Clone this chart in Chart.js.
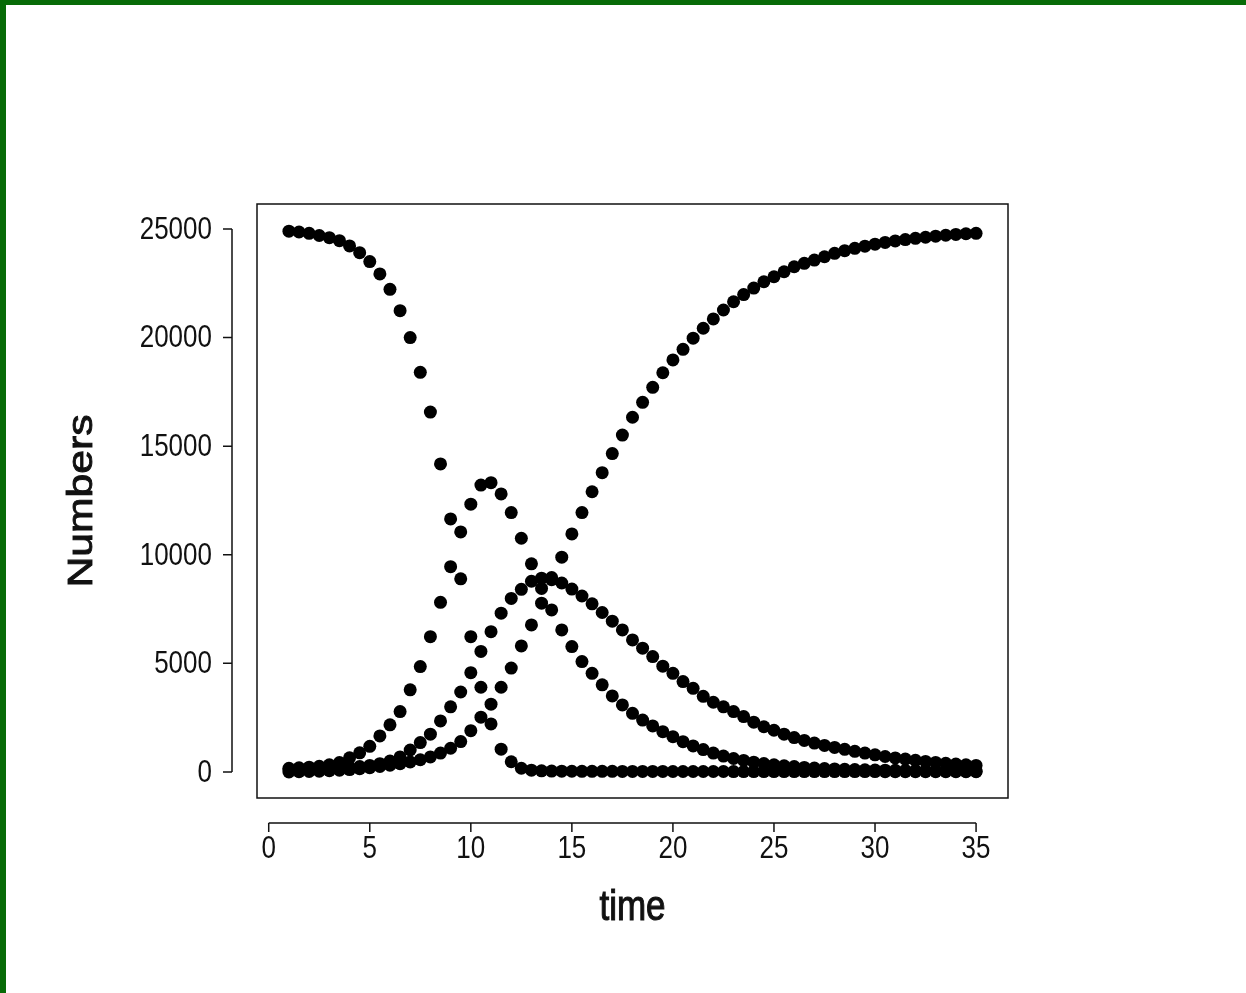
<!DOCTYPE html>
<html>
<head>
<meta charset="utf-8">
<script src="https://cdn.jsdelivr.net/npm/chart.js@4/dist/chart.umd.min.js"></script>
<style>
  html, body { margin: 0; padding: 0; background: #fff; }
  #wrap { position: relative; width: 1246px; height: 993px; overflow: hidden; }
  #frame { position: absolute; left: 0; top: 0; right: 0; bottom: 0;
           border-top: 5px solid #076b07; border-left: 6px solid #076b07; pointer-events: none; }
</style>
</head>
<body>
<div id="wrap">
  <canvas id="chart_seir" width="1246" height="993"></canvas>
  <div id="frame"></div>
</div>
<script>
// time steps (days)
const timeSteps = [1, 1.5, 2, 2.5, 3, 3.5, 4, 4.5, 5, 5.5, 6, 6.5, 7, 7.5, 8, 8.5, 9, 9.5, 10, 10.5,
  11, 11.5, 12, 12.5, 13, 13.5, 14, 14.5, 15, 15.5, 16, 16.5, 17, 17.5, 18, 18.5, 19, 19.5, 20, 20.5,
  21, 21.5, 22, 22.5, 23, 23.5, 24, 24.5, 25, 25.5, 26, 26.5, 27, 27.5, 28, 28.5, 29, 29.5, 30, 30.5,
  31, 31.5, 32, 32.5, 33, 33.5, 34, 34.5, 35];

const susceptible = [24900, 24860, 24800, 24700, 24600, 24460, 24220, 23910, 23500, 22930,
  22220, 21240, 20000, 18400, 16570, 14180, 11650, 8890, 6230, 3900,
  2210, 1050, 470, 170, 80, 50, 40, 35, 32, 30,
  28, 27, 26, 25, 24, 23, 22, 22, 21, 21,
  20, 20, 19, 19, 18, 18, 18, 17, 17, 17,
  16, 16, 16, 16, 15, 15, 15, 15, 15, 14,
  14, 14, 14, 14, 14, 13, 13, 13, 13];

const exposed = [170, 190, 220, 260, 330, 430, 650, 880, 1180, 1660,
  2170, 2780, 3780, 4850, 6230, 7810, 9450, 11050, 12330, 13210,
  13320, 12800, 11940, 10760, 9580, 8450, 7460, 6540, 5770, 5080,
  4540, 4010, 3500, 3085, 2700, 2390, 2120, 1855, 1625, 1395,
  1200, 1030, 870, 730, 620, 530, 450, 385, 330, 285,
  245, 210, 180, 158, 140, 125, 112, 100, 90, 82,
  75, 68, 62, 57, 52, 48, 44, 40, 37];

const infectious = [100, 105, 115, 130, 150, 175, 205, 245, 300, 380,
  500, 690, 1010, 1350, 1740, 2350, 3000, 3680, 4570, 5550,
  6460, 7310, 7990, 8410, 8780, 8920, 8950, 8700, 8420, 8100,
  7740, 7340, 6940, 6540, 6080, 5700, 5310, 4870, 4540, 4160,
  3850, 3480, 3210, 3000, 2780, 2550, 2290, 2080, 1920, 1740,
  1580, 1450, 1330, 1220, 1130, 1040, 950, 870, 790, 710,
  645, 590, 535, 485, 440, 400, 365, 330, 300];

const recovered = [0, 10, 20, 35, 55, 80, 110, 150, 195, 250,
  310, 380, 460, 560, 690, 870, 1090, 1400, 1900, 2520,
  3120, 3900, 4780, 5800, 6770, 7770, 8850, 9890, 10960, 11940,
  12900, 13780, 14660, 15510, 16330, 17020, 17710, 18380, 18970, 19460,
  19970, 20430, 20860, 21270, 21650, 21980, 22280, 22570, 22800, 23030,
  23260, 23420, 23570, 23720, 23880, 24000, 24110, 24210, 24300, 24380,
  24450, 24510, 24570, 24620, 24670, 24710, 24750, 24780, 24800];

const xTicks = [0, 5, 10, 15, 20, 25, 30, 35];
const yTicks = [0, 5000, 10000, 15000, 20000, 25000];

const xTitle = 'time';
const yTitle = 'Numbers';

// the original picture is stretched vertically, so text is drawn taller than wide
const tickFont = '26px "Liberation Sans", Arial, sans-serif';
const titleFont = '35px "Liberation Sans", Arial, sans-serif';
const stretch = 1.22;

const toPoints = (ys) => timeSteps.map((t, i) => ({ x: t, y: ys[i] }));

const dot = {
    pointRadius: 6.5,
    pointHoverRadius: 6.5,
    pointBackgroundColor: '#000',
    pointBorderColor: '#000',
    pointBorderWidth: 0,
    showLine: false,
};

const tallText = (ctx, text, x, y, bold) => {
    ctx.save();
    ctx.translate(x, y);
    ctx.scale(1, stretch);
    ctx.fillText(text, 0, 0);
    if (bold) {
        ctx.lineWidth = 0.9;
        ctx.strokeText(text, 0, 0);
    }
    ctx.restore();
};

// R style box + detached axes, drawn from the chart's own scales
const rAxes = {
    id: 'rAxes',
    afterDraw(chart) {
        const ctx = chart.ctx;
        const area = chart.chartArea;
        const xs = chart.scales.x;
        const ys = chart.scales.y;
        ctx.save();
        ctx.strokeStyle = '#111';
        ctx.fillStyle = '#111';
        ctx.lineWidth = 1.5;
        ctx.strokeRect(area.left, area.top, area.right - area.left, area.bottom - area.top);

        // y axis
        const yAxisX = area.left - 25;
        ctx.beginPath();
        ctx.moveTo(yAxisX, ys.getPixelForValue(yTicks[0]));
        ctx.lineTo(yAxisX, ys.getPixelForValue(yTicks[yTicks.length - 1]));
        yTicks.forEach((v) => {
            const py = ys.getPixelForValue(v);
            ctx.moveTo(yAxisX, py);
            ctx.lineTo(yAxisX - 9, py);
        });
        ctx.stroke();
        ctx.font = tickFont;
        ctx.textAlign = 'right';
        ctx.textBaseline = 'middle';
        yTicks.forEach((v) => {
            tallText(ctx, String(v), yAxisX - 20, ys.getPixelForValue(v) + 1);
        });

        // x axis
        const xAxisY = area.bottom + 25;
        ctx.beginPath();
        ctx.moveTo(xs.getPixelForValue(xTicks[0]), xAxisY);
        ctx.lineTo(xs.getPixelForValue(xTicks[xTicks.length - 1]), xAxisY);
        xTicks.forEach((v) => {
            const px = xs.getPixelForValue(v);
            ctx.moveTo(px, xAxisY);
            ctx.lineTo(px, xAxisY + 9);
        });
        ctx.stroke();
        ctx.textAlign = 'center';
        xTicks.forEach((v) => {
            tallText(ctx, String(v), xs.getPixelForValue(v), xAxisY + 26);
        });

        // titles
        ctx.font = titleFont;
        tallText(ctx, xTitle, (area.left + area.right) / 2, 908, true);
        // rotated title: stretch runs along its length
        ctx.save();
        ctx.translate(82, (area.top + area.bottom) / 2);
        ctx.scale(1, stretch);
        ctx.rotate(-Math.PI / 2);
        ctx.fillText(yTitle, 0, 0);
        ctx.lineWidth = 0.9;
        ctx.strokeText(yTitle, 0, 0);
        ctx.restore();
        ctx.restore();
    }
};

const canvas = document.getElementById('chart_seir');
const chart = new Chart(canvas, {
    type: 'scatter',
    data: {
        datasets: [
            { label: 'S', data: toPoints(susceptible), ...dot },
            { label: 'E', data: toPoints(exposed), ...dot },
            { label: 'I', data: toPoints(infectious), ...dot },
            { label: 'R', data: toPoints(recovered), ...dot },
        ]
    },
    options: {
        responsive: false,
        animation: false,
        events: [],
        layout: {
            padding: { left: 257, top: 204, right: 238, bottom: 195 }
        },
        plugins: {
            legend: { display: false },
            tooltip: { enabled: false },
            title: { display: false },
        },
        scales: {
            x: { type: 'linear', min: -0.58, max: 36.58, display: false },
            y: { type: 'linear', min: -1200, max: 26150, display: false },
        }
    },
    plugins: [rAxes],
});
</script>
</body>
</html>
